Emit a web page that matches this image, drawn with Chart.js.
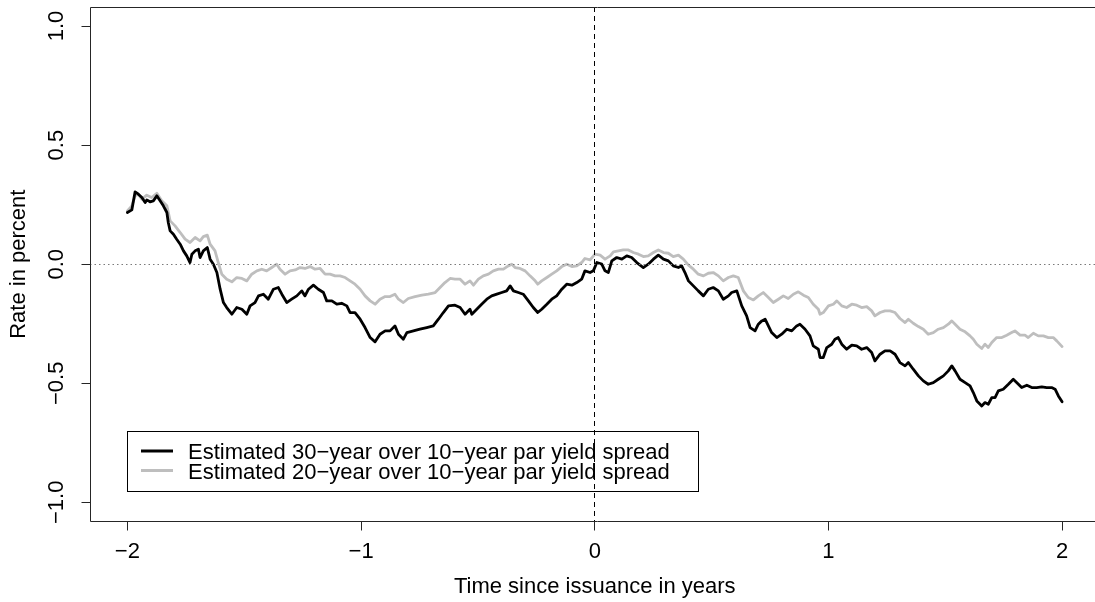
<!DOCTYPE html>
<html>
<head>
<meta charset="utf-8">
<script src="https://cdn.jsdelivr.net/npm/chart.js@4.4.1/dist/chart.umd.min.js"></script>
<style>
  html, body { margin: 0; padding: 0; background: #fff; overflow: hidden; }
  #wrap { position: absolute; left: 0; top: 0; width: 1110px; height: 602px; }
</style>
</head>
<body>
<div id="wrap"><canvas id="chart" width="1110" height="602"></canvas></div>
<script>
// years relative to issuance
const time30 = [
  -2.000, -1.981, -1.967, -1.953, -1.938, -1.924, -1.917, -1.903, -1.889, -1.874,
  -1.860, -1.846, -1.831, -1.825, -1.817, -1.803, -1.789, -1.774, -1.760, -1.746,
  -1.732, -1.724, -1.710, -1.696, -1.689, -1.675, -1.658, -1.646, -1.632, -1.617,
  -1.603, -1.589, -1.575, -1.553, -1.532, -1.510, -1.489, -1.475, -1.454, -1.439,
  -1.418, -1.397, -1.375, -1.354, -1.339, -1.318, -1.297, -1.275, -1.254, -1.240,
  -1.225, -1.204, -1.183, -1.161, -1.147, -1.125, -1.104, -1.083, -1.061, -1.047,
  -1.026, -1.004, -0.983, -0.961, -0.940, -0.919, -0.897, -0.876, -0.855, -0.840,
  -0.819, -0.804, -0.776, -0.748, -0.719, -0.691, -0.669, -0.648, -0.626, -0.598,
  -0.576, -0.555, -0.534, -0.526, -0.505, -0.484, -0.462, -0.441, -0.419, -0.398,
  -0.377, -0.362, -0.348, -0.327, -0.306, -0.284, -0.263, -0.244, -0.227, -0.205,
  -0.184, -0.163, -0.141, -0.120, -0.098, -0.077, -0.056, -0.042, -0.020,
  -0.006, 0.009, 0.030, 0.044, 0.058, 0.073, 0.094, 0.116, 0.137, 0.158,
  0.180, 0.208, 0.229, 0.251, 0.272, 0.294, 0.315, 0.336, 0.358, 0.372,
  0.386, 0.401, 0.422, 0.443, 0.465, 0.486, 0.507, 0.529, 0.550, 0.572,
  0.586, 0.608, 0.629, 0.650, 0.665, 0.686, 0.700, 0.715, 0.729, 0.743,
  0.757, 0.779, 0.800, 0.822, 0.843, 0.864, 0.878, 0.900, 0.921, 0.935,
  0.957,
  0.964, 0.978, 0.993, 1.014, 1.028, 1.042, 1.057, 1.078, 1.100, 1.121,
  1.142, 1.164, 1.185, 1.199, 1.221, 1.242, 1.264, 1.285, 1.306, 1.328,
  1.342, 1.363, 1.385, 1.406, 1.427, 1.449, 1.470, 1.492, 1.513, 1.528,
  1.542, 1.563, 1.585, 1.606, 1.620, 1.635, 1.656, 1.670, 1.684, 1.699,
  1.713, 1.727, 1.748, 1.770, 1.791, 1.813, 1.827, 1.849, 1.870, 1.891,
  1.913, 1.934, 1.955, 1.970, 1.984, 2.000
];
// 30y over 10y spread, percent
const spread30 = [
  0.217, 0.228, 0.304, 0.294, 0.280, 0.259, 0.270, 0.262, 0.266, 0.287,
  0.266, 0.245, 0.217, 0.175, 0.140, 0.126, 0.105, 0.084, 0.056, 0.035,
  0.007, 0.042, 0.056, 0.063, 0.028, 0.056, 0.070, 0.021, 0.000, -0.035,
  -0.105, -0.161, -0.182, -0.210, -0.182, -0.189, -0.210, -0.175, -0.161, -0.133,
  -0.126, -0.147, -0.105, -0.098, -0.126, -0.161, -0.147, -0.133, -0.112, -0.133,
  -0.105, -0.088, -0.105, -0.119, -0.154, -0.154, -0.168, -0.164, -0.175, -0.203,
  -0.203, -0.231, -0.266, -0.308, -0.326, -0.294, -0.280, -0.280, -0.259, -0.294,
  -0.315, -0.287, -0.280, -0.273, -0.266, -0.259, -0.231, -0.203, -0.175, -0.172,
  -0.182, -0.210, -0.189, -0.210, -0.189, -0.168, -0.147, -0.133, -0.126, -0.119,
  -0.112, -0.091, -0.112, -0.119, -0.126, -0.154, -0.182, -0.203, -0.189, -0.168,
  -0.147, -0.133, -0.105, -0.084, -0.088, -0.077, -0.063, -0.028, -0.035,
  -0.028, 0.007, 0.000, -0.028, -0.035, 0.014, 0.028, 0.021, 0.035, 0.028,
  0.007, -0.014, 0.000, 0.021, 0.038, 0.021, 0.014, -0.007, -0.014, -0.007,
  -0.035, -0.070, -0.091, -0.112, -0.133, -0.105, -0.098, -0.112, -0.147, -0.133,
  -0.119, -0.112, -0.175, -0.217, -0.266, -0.280, -0.252, -0.238, -0.231, -0.259,
  -0.287, -0.308, -0.294, -0.273, -0.280, -0.259, -0.252, -0.273, -0.301, -0.343,
  -0.357,
  -0.392, -0.392, -0.350, -0.336, -0.315, -0.308, -0.336, -0.357, -0.340, -0.343,
  -0.357, -0.350, -0.371, -0.406, -0.378, -0.364, -0.364, -0.378, -0.413, -0.427,
  -0.413, -0.441, -0.469, -0.490, -0.504, -0.497, -0.483, -0.469, -0.448, -0.427,
  -0.448, -0.483, -0.497, -0.511, -0.539, -0.574, -0.595, -0.581, -0.588, -0.560,
  -0.560, -0.532, -0.525, -0.504, -0.483, -0.504, -0.518, -0.508, -0.518, -0.518,
  -0.515, -0.518, -0.518, -0.525, -0.553, -0.578
];
const time20 = [
  -2.000, -1.981, -1.967, -1.953, -1.938, -1.917, -1.896, -1.874, -1.853, -1.831,
  -1.817, -1.796, -1.774, -1.753, -1.732, -1.710, -1.689, -1.675, -1.658, -1.646,
  -1.625, -1.611, -1.596, -1.575, -1.553, -1.532, -1.510, -1.489, -1.468, -1.446,
  -1.425, -1.404, -1.382, -1.361, -1.347, -1.325, -1.304, -1.282, -1.261, -1.240,
  -1.218, -1.197, -1.175, -1.154, -1.133, -1.111, -1.090, -1.068, -1.047,
  -1.026, -1.004, -0.983, -0.961, -0.940, -0.919, -0.897, -0.876, -0.855, -0.840,
  -0.819, -0.798, -0.769, -0.740, -0.712, -0.683, -0.662, -0.641, -0.619, -0.598,
  -0.576, -0.555, -0.534, -0.519, -0.498, -0.477, -0.455, -0.434, -0.412, -0.391,
  -0.370, -0.355, -0.341, -0.320, -0.298, -0.277, -0.255, -0.244, -0.227, -0.205,
  -0.184, -0.163, -0.141, -0.120, -0.098, -0.077, -0.056, -0.042, -0.020,
  0.001, 0.023, 0.044, 0.066, 0.080, 0.101, 0.122, 0.144, 0.165, 0.187,
  0.208, 0.229, 0.251, 0.272, 0.294, 0.315, 0.336, 0.358, 0.379, 0.401,
  0.422, 0.443, 0.465, 0.486, 0.507, 0.529, 0.550, 0.572, 0.593, 0.614,
  0.636, 0.657, 0.679, 0.700, 0.721, 0.743, 0.764, 0.786, 0.807, 0.828,
  0.850, 0.871, 0.893, 0.914, 0.935, 0.957,
  0.964, 0.978, 1.000, 1.021, 1.036, 1.057, 1.078, 1.100, 1.121, 1.142,
  1.164, 1.185, 1.199, 1.221, 1.242, 1.264, 1.285, 1.306, 1.328, 1.342,
  1.363, 1.385, 1.406, 1.427, 1.449, 1.470, 1.492, 1.513, 1.528, 1.542,
  1.563, 1.585, 1.606, 1.620, 1.635, 1.656, 1.670, 1.684, 1.699, 1.720,
  1.742, 1.763, 1.784, 1.798, 1.820, 1.841, 1.855, 1.877, 1.898, 1.920,
  1.941, 1.962, 1.977, 2.000
];
// 20y over 10y spread, percent
const spread20 = [
  0.224, 0.245, 0.287, 0.294, 0.273, 0.290, 0.280, 0.298, 0.266, 0.245,
  0.182, 0.161, 0.133, 0.105, 0.091, 0.112, 0.098, 0.116, 0.122, 0.084,
  0.056, 0.007, -0.042, -0.063, -0.074, -0.056, -0.060, -0.070, -0.042, -0.028,
  -0.021, -0.028, -0.014, 0.000, -0.021, -0.042, -0.028, -0.024, -0.014, -0.018,
  -0.010, -0.021, -0.018, -0.042, -0.042, -0.049, -0.049, -0.056, -0.070,
  -0.084, -0.105, -0.133, -0.154, -0.168, -0.147, -0.136, -0.136, -0.126, -0.147,
  -0.161, -0.144, -0.136, -0.130, -0.126, -0.119, -0.098, -0.077, -0.060, -0.063,
  -0.063, -0.084, -0.070, -0.088, -0.063, -0.049, -0.042, -0.028, -0.021, -0.021,
  -0.007, 0.000, -0.014, -0.018, -0.028, -0.049, -0.070, -0.084, -0.070, -0.056,
  -0.042, -0.028, -0.010, 0.000, -0.010, -0.007, 0.007, 0.024, 0.018,
  0.042, 0.038, 0.021, 0.035, 0.052, 0.056, 0.060, 0.060, 0.049, 0.042,
  0.032, 0.035, 0.049, 0.060, 0.049, 0.046, 0.032, 0.038, 0.021, -0.004,
  -0.021, -0.042, -0.049, -0.038, -0.035, -0.049, -0.070, -0.056, -0.049, -0.056,
  -0.112, -0.140, -0.150, -0.133, -0.119, -0.140, -0.161, -0.147, -0.133, -0.144,
  -0.126, -0.116, -0.130, -0.140, -0.168, -0.189,
  -0.210, -0.203, -0.175, -0.168, -0.154, -0.175, -0.182, -0.168, -0.172, -0.182,
  -0.178, -0.196, -0.217, -0.203, -0.196, -0.196, -0.203, -0.228, -0.245, -0.231,
  -0.248, -0.262, -0.273, -0.294, -0.287, -0.273, -0.266, -0.252, -0.238, -0.252,
  -0.273, -0.284, -0.301, -0.315, -0.336, -0.354, -0.336, -0.350, -0.329, -0.308,
  -0.308, -0.298, -0.287, -0.280, -0.298, -0.298, -0.308, -0.290, -0.301, -0.301,
  -0.308, -0.308, -0.322, -0.346
];

const seriesLabels = [
  'Estimated 30\u2212year over 10\u2212year par yield spread',
  'Estimated 20\u2212year over 10\u2212year par yield spread'
];
const seriesColors = ['#000000', '#bebebe'];
const xTicks = [-2, -1, 0, 1, 2];
const yTicks = [-1, -0.5, 0, 0.5, 1];
const xTitle = 'Time since issuance in years';
const yTitle = 'Rate in percent';

const FONT = '22px "Liberation Sans", Arial, Helvetica, sans-serif';

function toPoints(xs, ys) {
  return xs.map((x, i) => ({ x: x, y: ys[i] }));
}
function tickText(v, digits) {
  return v.toFixed(digits).replace('-', '\u2212');
}
function crisp(v) { return Math.floor(v) + 0.5; }

// base-graphics look: box, outside ticks, rotated y labels, reference lines, boxed legend
const rStyle = {
  id: 'rStyle',
  afterDatasetsDraw(chart) {
    const { ctx, chartArea: a, scales: { x, y } } = chart;
    ctx.save();
    ctx.lineWidth = 1;

    // zero line (dotted) and issuance date (dashed)
    const y0 = crisp(y.getPixelForValue(0));
    ctx.strokeStyle = '#7a7a7a';
    ctx.setLineDash([1.5, 3]);
    ctx.beginPath(); ctx.moveTo(a.left, y0); ctx.lineTo(a.right, y0); ctx.stroke();

    const x0 = crisp(x.getPixelForValue(0));
    ctx.strokeStyle = '#000';
    ctx.setLineDash([5, 4]);
    ctx.beginPath(); ctx.moveTo(x0, a.top); ctx.lineTo(x0, a.bottom); ctx.stroke();
    ctx.setLineDash([]);

    // box (right side falls outside the window in the original)
    const L = crisp(a.left), T = crisp(a.top), B = crisp(a.bottom);
    ctx.strokeStyle = '#262626';
    ctx.beginPath();
    ctx.moveTo(a.right + 5, T); ctx.lineTo(L, T); ctx.lineTo(L, B); ctx.lineTo(a.right + 5, B);
    ctx.stroke();

    // ticks
    ctx.beginPath();
    xTicks.forEach(v => {
      const px = crisp(x.getPixelForValue(v));
      ctx.moveTo(px, B); ctx.lineTo(px, B + 9);
    });
    yTicks.forEach(v => {
      const py = crisp(y.getPixelForValue(v));
      ctx.moveTo(L, py); ctx.lineTo(L - 9, py);
    });
    ctx.stroke();

    // tick labels
    ctx.fillStyle = '#000';
    ctx.font = FONT;
    ctx.textAlign = 'center';
    ctx.textBaseline = 'alphabetic';
    xTicks.forEach(v => {
      ctx.fillText(tickText(v, 0), x.getPixelForValue(v), 558);
    });
    yTicks.forEach(v => {
      ctx.save();
      ctx.translate(63, y.getPixelForValue(v));
      ctx.rotate(-Math.PI / 2);
      ctx.fillText(tickText(v, 1), 0, 0);
      ctx.restore();
    });

    // axis titles
    ctx.fillText(xTitle, (a.left + a.right) / 2, 593);
    ctx.save();
    ctx.translate(25, (a.top + a.bottom) / 2);
    ctx.rotate(-Math.PI / 2);
    ctx.fillText(yTitle, 0, 0);
    ctx.restore();

    // legend
    ctx.strokeStyle = '#000';
    ctx.strokeRect(127.5, 431.5, 571, 60);
    ctx.lineWidth = 3;
    ctx.textAlign = 'left';
    const rows = [451, 470.5];
    seriesLabels.forEach((lab, i) => {
      ctx.strokeStyle = seriesColors[i];
      ctx.beginPath(); ctx.moveTo(141, rows[i]); ctx.lineTo(173, rows[i]); ctx.stroke();
      ctx.fillText(lab, 188, rows[i] + 8);
    });

    ctx.restore();
  }
};

new Chart(document.getElementById('chart'), {
  type: 'line',
  data: {
    datasets: [
      { label: seriesLabels[0], data: toPoints(time30, spread30), borderColor: seriesColors[0], borderWidth: 2.8 },
      { label: seriesLabels[1], data: toPoints(time20, spread20), borderColor: seriesColors[1], borderWidth: 2.8 }
    ]
  },
  options: {
    responsive: false,
    animation: false,
    devicePixelRatio: 1,
    layout: { padding: { left: 90, top: 7, right: 10.5, bottom: 80.6 } },
    elements: {
      point: { radius: 0, hoverRadius: 0 },
      line: { tension: 0, borderJoinStyle: 'round', borderCapStyle: 'round' }
    },
    scales: {
      x: { type: 'linear', min: -2.16, max: 2.16, display: false },
      y: { type: 'linear', min: -1.08, max: 1.08, display: false }
    },
    plugins: { legend: { display: false }, tooltip: { enabled: false } }
  },
  plugins: [rStyle]
});
</script>
</body>
</html>
